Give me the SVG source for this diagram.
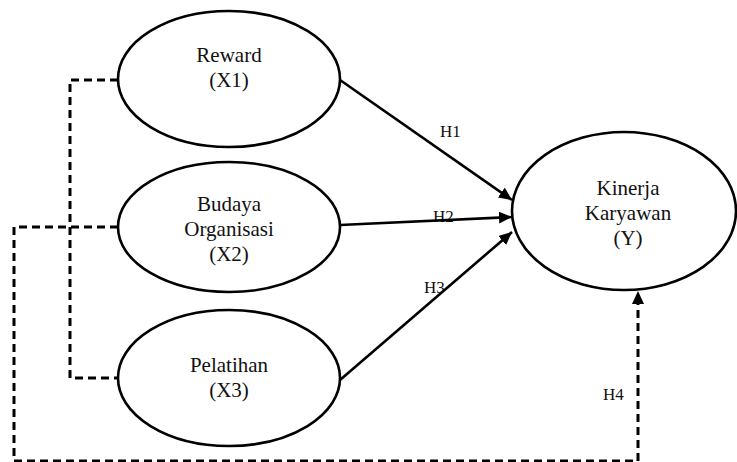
<svg xmlns="http://www.w3.org/2000/svg" width="737" height="462" viewBox="0 0 737 462">
  <style>
    .node ellipse { fill: #ffffff; stroke: #000000; stroke-width: 2.6; }
    .node text, .lbl { font-family: "Liberation Serif", "Times New Roman", serif; fill: #111111; text-anchor: middle; }
    .node text { font-size: 21px; }
    .lbl { font-size: 17px; text-anchor: start; }
    .solid { fill: none; stroke: #000000; stroke-width: 2.6; marker-end: url(#arrow); }
    .dash { fill: none; stroke: #000000; stroke-width: 3; stroke-dasharray: 8 5; }
  </style>
  <defs>
    <marker id="arrow" markerUnits="userSpaceOnUse" markerWidth="13" markerHeight="12" refX="13" refY="6" orient="auto">
      <path d="M0,0 L13,6 L0,12 z" fill="#000000" stroke="none"/>
    </marker>
  </defs>

  <rect x="0" y="0" width="737" height="462" fill="#ffffff"/>

  <g id="node-x1" class="node">
    <ellipse cx="229" cy="79" rx="111" ry="68"/>
    <text x="229" y="62">Reward</text>
    <text x="229" y="87">(X1)</text>
  </g>
  <g id="node-x2" class="node">
    <ellipse cx="229" cy="227" rx="111" ry="65"/>
    <text x="229" y="211">Budaya</text>
    <text x="229" y="236">Organisasi</text>
    <text x="229" y="261">(X2)</text>
  </g>
  <g id="node-x3" class="node">
    <ellipse cx="229" cy="378" rx="111" ry="68"/>
    <text x="229" y="372">Pelatihan</text>
    <text x="229" y="397">(X3)</text>
  </g>
  <g id="node-y" class="node">
    <ellipse cx="624" cy="211" rx="112" ry="79"/>
    <text x="628" y="195">Kinerja</text>
    <text x="628" y="220">Karyawan</text>
    <text x="628" y="245">(Y)</text>
  </g>

  <g id="connectors">
    <text class="lbl" x="440" y="137">H1</text>
    <text class="lbl" x="433" y="222">H2</text>
    <text class="lbl" x="424" y="293">H3</text>
    <text class="lbl" x="603" y="400">H4</text>
    <path class="solid" d="M340,80 L512,200"/>
    <path class="solid" d="M340,225 L512,217"/>
    <path class="solid" d="M340,380 L512,232"/>
    <path class="dash" d="M118,80 L70,80 L70,378 L118,378"/>
    <path class="dash" d="M118,227 L14,227 L14,461 L638,461 L638,302"/>
    <path d="M638,304 L638,291" stroke="none" fill="none" marker-end="url(#arrow)"/>
  </g>
</svg>
